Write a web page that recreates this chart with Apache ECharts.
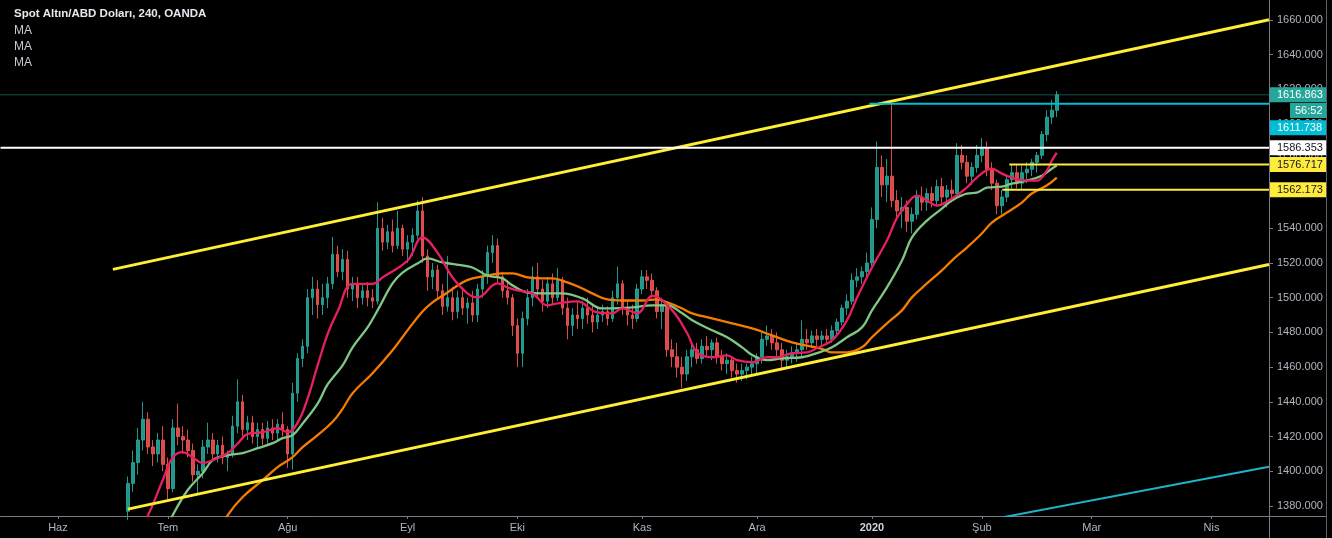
<!DOCTYPE html>
<html><head><meta charset="utf-8">
<script src="https://cdn.jsdelivr.net/npm/echarts@6/dist/echarts.min.js"></script>
<style>html,body{margin:0;padding:0;background:#000;}#c{width:1332px;height:538px;}</style>
</head><body><div id="c"></div>
<script>
// ---------- data ----------
const N = 254; // bar slots on the time axis (one per trading day)
const monthLabels = ['Haz','Tem','Ağu','Eyl','Eki','Kas','Ara','2020','Şub','Mar','Nis'];
const monthIdx    = [11, 33, 57, 81, 103, 128, 151, 174, 196, 218, 242];
const candleStart = 25;
// [open, high, low, close]
const ohlc = [
[1377,1397,1372,1393],[1393,1412,1388,1405],[1405,1425,1398,1418],[1418,1440,1412,1430],[1430,1434,1410,1414],
[1414,1418,1403,1410],[1410,1422,1405,1418],[1418,1426,1400,1404],[1404,1408,1384,1390],[1390,1430,1388,1425],
[1425,1439,1415,1420],[1420,1426,1410,1418],[1418,1424,1408,1412],[1412,1416,1394,1398],[1398,1404,1387,1400],
[1400,1418,1396,1414],[1414,1428,1410,1418],[1418,1422,1406,1410],[1410,1418,1405,1415],[1415,1420,1404,1408],
[1408,1412,1400,1410],[1410,1432,1408,1426],[1426,1453,1422,1440],[1440,1444,1420,1424],[1424,1432,1418,1428],
[1428,1432,1416,1420],[1420,1428,1414,1424],[1424,1428,1415,1419],[1419,1429,1416,1425],[1425,1430,1418,1422],
[1422,1430,1418,1427],[1427,1434,1420,1424],[1424,1426,1402,1410],[1410,1451,1401,1445],[1445,1468,1440,1465],
[1465,1476,1460,1472],[1472,1505,1468,1500],[1500,1512,1490,1505],[1505,1510,1488,1496],[1496,1508,1490,1500],
[1500,1512,1494,1508],[1508,1535,1505,1525],[1525,1530,1512,1515],[1515,1528,1510,1522],[1522,1527,1500,1505],
[1505,1512,1498,1508],[1508,1512,1494,1500],[1500,1508,1496,1504],[1504,1509,1495,1500],[1500,1505,1494,1498],
[1498,1555,1496,1540],[1540,1546,1527,1532],[1532,1542,1528,1538],[1538,1545,1526,1530],[1530,1550,1528,1540],
[1540,1542,1524,1528],[1528,1536,1520,1532],[1532,1540,1524,1536],[1536,1556,1534,1550],[1550,1558,1520,1524],
[1524,1528,1504,1512],[1512,1520,1505,1516],[1516,1519,1500,1504],[1504,1508,1490,1495],[1495,1524,1492,1500],
[1500,1506,1487,1492],[1492,1504,1488,1500],[1500,1506,1490,1494],[1494,1500,1485,1497],[1497,1504,1486,1490],
[1490,1508,1486,1505],[1505,1516,1500,1512],[1512,1530,1508,1526],[1526,1536,1520,1530],[1530,1534,1508,1512],
[1512,1515,1500,1504],[1504,1510,1496,1500],[1500,1502,1478,1484],[1484,1488,1460,1468],[1468,1492,1460,1488],
[1488,1505,1484,1500],[1500,1518,1495,1512],[1512,1520,1500,1505],[1505,1510,1492,1498],[1498,1512,1494,1508],
[1508,1514,1496,1500],[1500,1517,1498,1510],[1510,1512,1490,1494],[1494,1500,1476,1484],[1484,1494,1478,1490],
[1490,1498,1482,1488],[1488,1498,1482,1494],[1494,1500,1485,1490],[1490,1496,1480,1486],[1486,1494,1482,1490],
[1490,1496,1486,1492],[1492,1495,1484,1488],[1488,1504,1486,1500],[1500,1518,1496,1508],[1508,1510,1490,1494],
[1494,1498,1484,1490],[1490,1496,1482,1488],[1488,1508,1486,1505],[1505,1516,1502,1512],[1512,1516,1505,1510],
[1510,1514,1500,1504],[1504,1506,1488,1492],[1492,1500,1482,1496],[1496,1498,1466,1470],[1470,1476,1460,1466],
[1466,1474,1454,1460],[1460,1466,1448,1456],[1456,1470,1452,1466],[1466,1474,1460,1470],[1470,1474,1462,1465],
[1465,1476,1462,1472],[1472,1478,1466,1470],[1470,1476,1464,1474],[1474,1477,1462,1466],[1466,1470,1458,1462],
[1462,1468,1456,1464],[1464,1466,1454,1458],[1458,1462,1451,1456],[1456,1462,1452,1458],[1458,1462,1453,1460],
[1460,1466,1455,1462],[1462,1468,1456,1466],[1466,1480,1462,1476],[1476,1484,1472,1478],[1478,1482,1470,1474],
[1474,1480,1466,1470],[1470,1474,1458,1464],[1464,1470,1460,1466],[1466,1472,1462,1468],[1468,1474,1463,1470],
[1470,1487,1466,1476],[1476,1482,1470,1474],[1474,1481,1471,1478],[1478,1482,1472,1476],[1476,1481,1472,1478],
[1478,1482,1473,1476],[1476,1484,1474,1481],[1481,1488,1478,1486],[1486,1496,1484,1494],[1494,1502,1490,1498],
[1498,1514,1496,1510],[1510,1517,1506,1512],[1512,1518,1508,1515],[1515,1526,1512,1520],[1520,1552,1518,1545],
[1545,1590,1540,1575],[1575,1582,1558,1565],[1565,1580,1555,1570],[1570,1612,1552,1556],[1556,1562,1545,1550],
[1550,1558,1540,1552],[1552,1556,1538,1544],[1544,1552,1537,1548],[1548,1562,1545,1558],[1558,1564,1550,1555],
[1555,1563,1550,1560],[1560,1564,1552,1556],[1556,1568,1553,1564],[1564,1569,1554,1558],[1558,1565,1552,1562],
[1562,1568,1555,1560],[1560,1589,1558,1582],[1582,1588,1574,1578],[1578,1582,1566,1570],[1570,1578,1565,1575],
[1575,1588,1572,1582],[1582,1592,1578,1586],[1586,1590,1570,1574],[1574,1578,1562,1566],[1566,1568,1548,1553],
[1553,1562,1548,1558],[1558,1571,1555,1568],[1568,1577,1562,1572],[1572,1577,1563,1566],[1566,1576,1562,1572],
[1572,1578,1566,1574],[1574,1580,1570,1578],[1578,1584,1572,1582],[1582,1596,1580,1594],[1594,1608,1590,1604],
[1604,1614,1600,1608],[1608,1619,1604,1616.863]
];
// moving averages: [bar index, value]
const maFast = [[27,1366],[29,1374.5],[32,1395],[34,1408],[36,1411],[38,1408],[40,1404.7],[42,1406.4],[45,1410.5],[47,1416],[49,1421.5],[52,1422.5],[55,1424.8],[57,1422.5],[59,1428],[61,1442],[63,1461],[65,1479],[67,1492],[70,1508],[74,1508],[76,1511.7],[81,1521.4],[84,1534.7],[87,1526],[90,1511.7],[93,1502.5],[95,1500.2],[99,1508.2],[101,1505.9],[103,1504.2],[106,1502.5],[109,1495.6],[111,1496.7],[115,1497.9],[119,1491.5],[122,1491],[124,1493.8],[127,1491],[130,1501],[134,1492.7],[137,1479.5],[139,1468.5],[142,1465.7],[145,1466.8],[147,1464],[150,1462.8],[153,1465.7],[155,1465.7],[158,1468],[161,1468.5],[163,1471],[166,1475.4],[169,1487],[171,1500],[174,1517.4],[177,1532.9],[179,1546],[181,1554],[183,1558.8],[185,1556],[187,1553.1],[190,1557.1],[193,1563.4],[195,1569.2],[198,1574.3],[200,1571.5],[202,1569.2],[205,1567.4],[207,1567.4],[209,1573.2],[210,1578.9],[211,1583.5]];
const maMid = [[33,1368],[34,1374.8],[37,1389.2],[40,1398.9],[42,1406.4],[45,1409.3],[48,1410.5],[51,1413.3],[54,1416.2],[56,1419.1],[58,1420.8],[60,1427.5],[63,1439],[65,1450],[68,1461],[70,1471.4],[73,1482.9],[75,1492.7],[78,1508.2],[80,1514.5],[83,1519.7],[85,1522.6],[88,1520.3],[92,1518.6],[94,1517.4],[97,1512.8],[100,1511.1],[102,1507.1],[105,1503],[108,1502.5],[112,1502.5],[116,1499.6],[120,1493.8],[122,1493.8],[126,1494.4],[130,1495.6],[133,1495.6],[136,1491],[138,1487],[142,1481.2],[145,1477.2],[148,1471.4],[150,1467],[153,1464],[156,1465.1],[160,1465.7],[164,1469.1],[166,1471.4],[169,1477.2],[172,1482.9],[174,1492.7],[177,1505.9],[180,1521.4],[182,1534.7],[185,1544.4],[188,1551.3],[190,1556],[193,1560],[195,1560.5],[197,1563.4],[200,1564],[202,1565.7],[205,1567.4],[208,1570.3],[210,1574.3],[211,1576.1]];
const maSlow = [[44,1368],[45,1374.8],[48,1385.2],[52,1394.9],[55,1402.4],[58,1408.2],[60,1413.9],[63,1420.8],[66,1428.5],[68,1436],[70,1445],[74,1456.5],[78,1469.7],[81,1481.2],[84,1492],[86,1497.3],[89,1503],[92,1508.8],[94,1511.1],[97,1512.8],[100,1514],[102,1514],[105,1511.7],[108,1511.1],[110,1511.1],[113,1508.8],[116,1505.3],[118,1502.5],[121,1499],[124,1498.4],[128,1498.4],[131,1499],[133,1497.3],[136,1493.8],[138,1491],[142,1488.1],[146,1485.2],[150,1482.3],[154,1478.3],[158,1474.3],[164,1470.5],[166,1468.5],[169,1468.5],[172,1471.4],[174,1477.2],[177,1485.2],[180,1492.7],[182,1500.2],[185,1508.2],[188,1515.7],[190,1521.4],[193,1528.9],[196,1537],[198,1543.3],[201,1549],[204,1554.8],[206,1560],[209,1564.6],[211,1569.2]];
// drawn trend lines: [bar index, price]
const channelUpper = [[22,1516.3],[253.5,1660.1]];
const channelLower = [[25,1378.2],[253.5,1519.1]];
const blueLine     = [[200,1373.4],[253.5,1402.6]];
// horizontal levels
const levelPrices = [1611.738, 1586.353, 1576.717, 1562.173];
const levelStarts = [173.5, -0.5, 201.5, 200.1];
const lastPrice = 1616.863;
const countdown = '56:52';
const titleText = 'Spot Altın/ABD Doları, 240, OANDA';
const indicatorNames = ['MA','MA','MA'];

// ---------- build ----------
const FONT = 'Liberation Sans';
const categories = Array.from({length:N}, (_, i) => { const k = monthIdx.indexOf(i); return k >= 0 ? monthLabels[k] : ''; });
const candleData = categories.map((_, i) => { const r = ohlc[i - candleStart]; return r ? [r[0], r[3], r[2], r[1]] : '-'; });
const xEnd = N - 0.5;

function levelSeries(price, start, lineColor, width, type, bg, fg, offY) {
  return {
    type:'line', xAxisIndex:1, yAxisIndex:0, data:[[start, price],[xEnd, price]],
    showSymbol:false, symbol:'none', silent:true, z:5,
    lineStyle:{color:lineColor, width:width, type:type},
    endLabel:{show:true, formatter:() => price.toFixed(3), distance:1, offset:[0, offY],
      backgroundColor:bg, color:fg, fontSize:11, fontFamily:FONT, padding:[2,5,1,7], width:44, lineHeight:12}
  };
}
const levelLineColors = ['#00bcd4','#ffffff','#ffeb3b','#ffeb3b'];
const levelBg = ['#00bcd4','#ffffff','#ffeb3b','#ffeb3b'];
const levelFg = ['#ffffff','#131722','#131722','#131722'];
const levelOff = [24, 0, 0, 0];

const series = [
  {type:'candlestick', name:'XAUUSD', data:candleData, barWidth:3, z:2,
   itemStyle:{color:'#26a69a', color0:'#ef5350', borderColor:'#26a69a', borderColor0:'#ef5350', borderWidth:1, opacity:0.9}},
  {type:'line', xAxisIndex:1, data:maSlow, smooth:0.4, showSymbol:false, symbol:'none', z:3, lineStyle:{color:'#f57c00', width:2.3}},
  {type:'line', xAxisIndex:1, data:maMid, smooth:0.4, showSymbol:false, symbol:'none', z:3, lineStyle:{color:'#81c784', width:2.3}},
  {type:'line', xAxisIndex:1, data:maFast, smooth:0.4, showSymbol:false, symbol:'none', z:3, lineStyle:{color:'#e91e63', width:2.3}},
  {type:'line', xAxisIndex:1, data:channelUpper, showSymbol:false, symbol:'none', z:4, lineStyle:{color:'#ffee33', width:3}},
  {type:'line', xAxisIndex:1, data:channelLower, showSymbol:false, symbol:'none', z:4, lineStyle:{color:'#ffee33', width:3}},
  {type:'line', xAxisIndex:1, data:blueLine, showSymbol:false, symbol:'none', z:4, lineStyle:{color:'#1fb3cc', width:2}},
  levelSeries(lastPrice, -0.5, '#26a69a', 1, 'dotted', '#26a69a', '#ffffff', 0)
];
levelPrices.forEach((p, k) => series.push(levelSeries(p, levelStarts[k], levelLineColors[k], 2, 'solid', levelBg[k], levelFg[k], levelOff[k])));

const chart = echarts.init(document.getElementById('c'), null, {renderer:'canvas'});
chart.setOption({
  backgroundColor:'#000000',
  animation:false,
  title:[
    {text:titleText, left:9, top:3, padding:5, textStyle:{color:'#e6e8ee', fontSize:11.5, fontWeight:'bold', fontFamily:FONT}},
    {text:indicatorNames.join('\n'), left:9, top:18, padding:5, textStyle:{color:'#c9cbd2', fontSize:12, fontWeight:'normal', lineHeight:16, fontFamily:FONT}}
  ],
  grid:{left:0, right:63, top:0, bottom:22, containLabel:false},
  xAxis:[
    {type:'category', data:categories, boundaryGap:true,
     axisLine:{onZero:false, lineStyle:{color:'#787b86'}},
     axisTick:{show:true, alignWithLabel:true, interval:(i, v) => v !== '', length:3, lineStyle:{color:'#787b86'}},
     axisLabel:{interval:0, color:'#b2b5be', fontSize:11, fontFamily:FONT, margin:6,
       formatter:v => v === '2020' ? '{y|2020}' : v,
       rich:{y:{fontWeight:'bold', color:'#d1d4dc', fontSize:11, fontFamily:FONT}}},
     splitLine:{show:false}},
    {type:'value', min:-0.5, max:xEnd, show:false, gridIndex:0,
     axisLine:{show:false, onZero:false}, axisTick:{show:false}, axisLabel:{show:false}, splitLine:{show:false}}
  ],
  yAxis:{type:'value', position:'right', min:1374.24, max:1671.5, splitNumber:15, minInterval:20, maxInterval:20,
    axisLine:{show:true, onZero:false, lineStyle:{color:'#787b86'}},
    axisTick:{show:true, inside:false, length:4, lineStyle:{color:'#787b86'}},
    axisLabel:{color:'#b2b5be', fontSize:11, fontFamily:FONT, margin:8, showMinLabel:false, showMaxLabel:false,
      formatter:v => (Math.abs(v / 20 - Math.round(v / 20)) < 1e-6) ? v.toFixed(3) : ''},
    splitLine:{show:false}},
  graphic:[
    {type:'line', shape:{x1:1269.5, y1:516, x2:1269.5, y2:538}, style:{stroke:'#787b86', lineWidth:1}, z:10},
    {type:'line', shape:{x1:1269, y1:516.5, x2:1326, y2:516.5}, style:{stroke:'#787b86', lineWidth:1}, z:10},
    {type:'line', shape:{x1:1326.5, y1:0, x2:1326.5, y2:538}, style:{stroke:'#5d606b', lineWidth:1}, z:10},
    {type:'text', left:1290, top:103, z:20,
     style:{text:countdown, fill:'#ffffff', backgroundColor:'#26a69a', padding:[2,4,1,5], font:'11px "Liberation Sans"', lineHeight:12}}
  ],
  series:series
});
</script></body></html>
